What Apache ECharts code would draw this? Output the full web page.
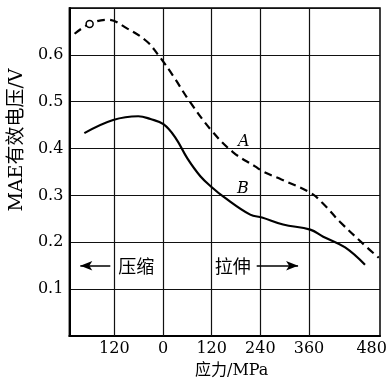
<!DOCTYPE html>
<html>
<head>
<meta charset="utf-8">
<script src="https://cdn.jsdelivr.net/npm/echarts@6/dist/echarts.min.js"></script>
<style>
html,body{margin:0;padding:0;background:#fff;}
#c{width:392px;height:386px;}
</style>
</head>
<body>
<div id="c"></div>
<script>
// Curve A (dashed)
const stressA = [-218, -181, -137, -88, -39, -12, 1, 25, 67, 121, 173, 227, 247, 292, 363, 392, 436, 503, 532];
const voltageA = [0.645, 0.666, 0.675, 0.656, 0.628, 0.600, 0.585, 0.555, 0.499, 0.437, 0.392, 0.362, 0.351, 0.334, 0.306, 0.285, 0.244, 0.189, 0.167];
// Curve B (solid)
const stressB = [-194, -123, -61, -31, 1, 30, 60, 92, 121, 148, 215, 244, 296, 363, 395, 449, 498];
const voltageB = [0.433, 0.461, 0.469, 0.463, 0.452, 0.424, 0.379, 0.341, 0.317, 0.298, 0.259, 0.253, 0.238, 0.227, 0.212, 0.189, 0.152];
// small open circle on curve A
const markerA = [-181, 0.666];
// tick values
const xGridTicks = [-120, 0, 120, 240, 360];
const xTickLabels = [-120, 0, 120, 240, 360, 480];
const yTickLabels = [0.1, 0.2, 0.3, 0.4, 0.5, 0.6];
// annotation texts
const curveLabels = [{text: 'A', x: 199, y: 0.4135}, {text: 'B', x: 197, y: 0.314}];
const dirLabels = [{text: '压缩', x: -66, y: 0.150}, {text: '拉伸', x: 172, y: 0.150}];
const dirArrows = [[-130, -204, 0.150], [231, 333, 0.150]];

const serif = "'DejaVu Serif', 'Noto Sans CJK SC', serif";
const cjk = "'Noto Sans CJK SC', 'DejaVu Serif', sans-serif";

const chart = echarts.init(document.getElementById('c'), null, {renderer: 'canvas'});

const pairs = (xs, ys) => xs.map((x, i) => [x, ys[i]]);

chart.setOption({
  animation: false,
  backgroundColor: '#fff',
  grid: {left: 69, right: 12, top: 8, bottom: 50, show: true, borderColor: '#000', borderWidth: 1.5, backgroundColor: 'transparent'},
  xAxis: {
    type: 'value', min: -231, max: 535,
    axisLine: {show: true, onZero: false, lineStyle: {color: '#000', width: 2}},
    axisTick: {show: false, customValues: xGridTicks},
    splitLine: {show: false},
    axisLabel: {
      customValues: xTickLabels, color: '#000', fontFamily: serif, fontSize: 16, margin: 5,
      formatter: v => v === 480 ? '{r|480}' : String(Math.abs(v)),
      rich: {r: {fontFamily: serif, fontSize: 16, color: '#000', padding: [0, 0, 0, 28]}}
    },
    name: '应力/MPa', nameLocation: 'middle', nameGap: 27,
    nameTextStyle: {fontFamily: serif, fontSize: 16, color: '#000', padding: [0, 0, 0, 14]}
  },
  yAxis: {
    type: 'value', min: 0, max: 0.7, interval: 0.1,
    axisLine: {show: true, onZero: false, lineStyle: {color: '#000', width: 2}},
    axisTick: {show: false},
    splitLine: {show: true, lineStyle: {color: '#111', width: 1.2}},
    axisLabel: {
      color: '#000', fontFamily: serif, fontSize: 16, margin: 6,
      formatter: v => yTickLabels.some(t => Math.abs(t - v) < 1e-6) ? v.toFixed(1) : ''
    },
    name: 'MAE有效电压/V', nameLocation: 'middle', nameGap: 40,
    nameTextStyle: {fontFamily: serif, fontSize: 19, color: '#000', padding: [0, 0, 0, 64]}
  },
  series: [
    {
      name: 'A', type: 'line', data: pairs(stressA, voltageA), smooth: 0.4, z: 3,
      showSymbol: false, lineStyle: {color: '#000', width: 2.2, type: [8, 5]},
      markPoint: {
        symbol: 'circle', symbolSize: 0,
        data: curveLabels.map(l => ({coord: [l.x, l.y], value: l.text})),
        label: {show: true, position: 'inside', formatter: p => p.value, fontFamily: serif, fontStyle: 'italic', fontSize: 16, color: '#000'}
      },
      markLine: {
        silent: true, symbol: ['none', 'none'], label: {show: false}, z: 1,
        lineStyle: {color: '#111', width: 1.2, type: 'solid'},
        data: xGridTicks.map(v => ({xAxis: v}))
      }
    },
    {
      name: 'B', type: 'line', data: pairs(stressB, voltageB), smooth: 0.4, z: 3,
      showSymbol: false, lineStyle: {color: '#000', width: 2.2},
      markPoint: {
        symbol: 'circle', symbolSize: 0,
        data: dirLabels.map(l => ({coord: [l.x, l.y], value: l.text})),
        label: {show: true, position: 'inside', formatter: p => p.value, fontFamily: cjk, fontSize: 18, color: '#000'}
      },
      markLine: {
        silent: true, symbol: ['none', 'arrow'], symbolSize: [7, 12],
        label: {show: false},
        lineStyle: {color: '#000', width: 1.5, type: 'solid'},
        data: dirArrows.map(a => [{coord: [a[0], a[2]]}, {coord: [a[1], a[2]]}])
      }
    },
    {
      name: 'marker', type: 'scatter', data: [markerA], symbol: 'circle', symbolSize: 7,
      itemStyle: {color: '#fff', borderColor: '#000', borderWidth: 1.5, opacity: 1}, z: 5
    }
  ]
});
</script>
</body>
</html>
